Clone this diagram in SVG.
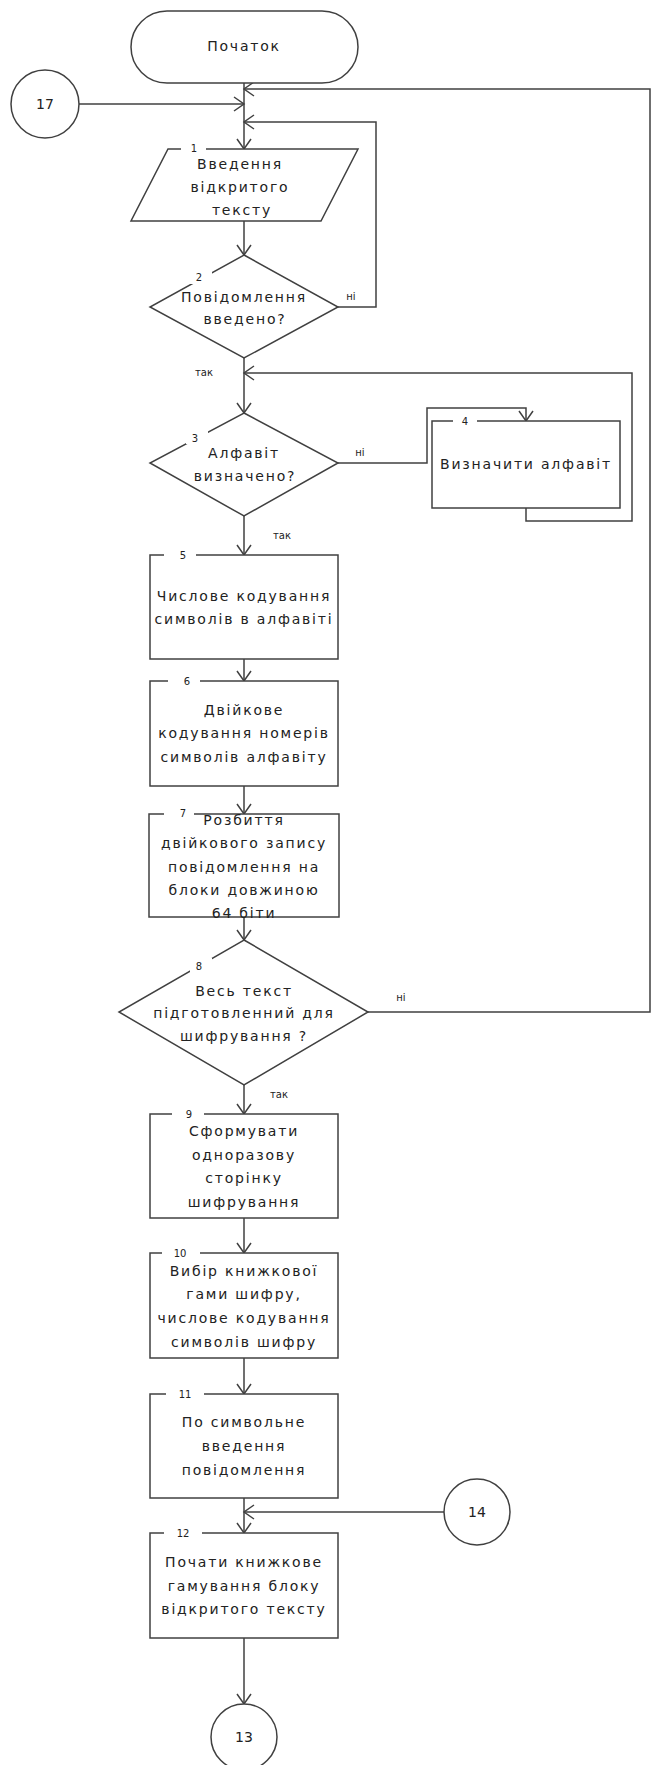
<svg xmlns="http://www.w3.org/2000/svg" width="652" height="1765" viewBox="0 0 652 1765">
<style>
.shape{fill:#ffffff;stroke:#404040;stroke-width:1.5}
.ln{fill:none;stroke:#404040;stroke-width:1.5}
.t{font-family:"DejaVu Sans",sans-serif;font-size:14px;letter-spacing:1.8px;fill:#222;text-anchor:middle;dominant-baseline:central}
.n{font-family:"DejaVu Sans",sans-serif;font-size:10px;fill:#222;text-anchor:middle;dominant-baseline:central}
.lb{font-family:"DejaVu Sans",sans-serif;font-size:10px;fill:#222;text-anchor:middle;dominant-baseline:central}
.gap{fill:#ffffff;stroke:none}
</style>
<defs>
<marker id="arr" markerUnits="userSpaceOnUse" markerWidth="14" markerHeight="18" refX="11" refY="8" orient="auto">
<path d="M1,1 L11,8 L1,15" fill="none" stroke="#404040" stroke-width="1.5"/>
</marker>
</defs>
<rect width="652" height="1765" fill="#ffffff"/>

<g id="connectors">
<polyline class="ln" points="244,83 244,149" marker-end="url(#arr)"/>
<polyline class="ln" points="79,104 244,104" marker-end="url(#arr)"/>
<polyline class="ln" points="338,307 376,307 376,122 244,122" marker-end="url(#arr)"/>
<polyline class="ln" points="368,1012 650,1012 650,89 244,89" marker-end="url(#arr)"/>
<polyline class="ln" points="244,221 244,255" marker-end="url(#arr)"/>
<polyline class="ln" points="244,358 244,413" marker-end="url(#arr)"/>
<polyline class="ln" points="338,463 427,463 427,408 526,408 526,421" marker-end="url(#arr)"/>
<polyline class="ln" points="526,508 526,521 632,521 632,373 244,373" marker-end="url(#arr)"/>
<polyline class="ln" points="244,516 244,555" marker-end="url(#arr)"/>
<polyline class="ln" points="244,659 244,681" marker-end="url(#arr)"/>
<polyline class="ln" points="244,786 244,814" marker-end="url(#arr)"/>
<polyline class="ln" points="244,917 244,940" marker-end="url(#arr)"/>
<polyline class="ln" points="244,1085 244,1114" marker-end="url(#arr)"/>
<polyline class="ln" points="244,1218 244,1253" marker-end="url(#arr)"/>
<polyline class="ln" points="244,1358 244,1394" marker-end="url(#arr)"/>
<polyline class="ln" points="244,1498 244,1533" marker-end="url(#arr)"/>
<polyline class="ln" points="444,1512 244,1512" marker-end="url(#arr)"/>
<polyline class="ln" points="244,1638 244,1704" marker-end="url(#arr)"/>
<text class="lb" x="351" y="296">ні</text>
<text class="lb" x="204" y="372">так</text>
<text class="lb" x="360" y="452">ні</text>
<text class="lb" x="282" y="535">так</text>
<text class="lb" x="401" y="997">ні</text>
<text class="lb" x="279" y="1094">так</text>
</g>

<g id="start">
<rect class="shape" x="131" y="11" width="227" height="72" rx="36" ry="36"/>
<text class="t" x="244" y="46">Початок</text>
</g>

<g id="c17">
<circle class="shape" cx="45" cy="104" r="34"/>
<text class="t" x="45" y="104" style="letter-spacing:0">17</text>
</g>

<g id="n1">
<polygon class="shape" points="168,149 358,149 321,221 131,221"/>
<rect class="gap" x="181" y="144" width="25" height="10"/>
<text class="n" x="194" y="148">1</text>
<text class="t" x="240" y="164">Введення</text>
<text class="t" x="240" y="187">відкритого</text>
<text class="t" x="242" y="210">тексту</text>
</g>

<g id="n2">
<polygon class="shape" points="244,255 338,307 244,358 150,307"/>
<rect class="gap" x="190" y="270" width="22" height="14"/>
<text class="n" x="199" y="277">2</text>
<text class="t" x="244" y="297">Повідомлення</text>
<text class="t" x="245" y="319">введено?</text>
</g>

<g id="n3">
<polygon class="shape" points="244,413 338,463 244,516 150,463"/>
<rect class="gap" x="186" y="430" width="22" height="14"/>
<text class="n" x="195" y="438">3</text>
<text class="t" x="244" y="453">Алфавіт</text>
<text class="t" x="245" y="476">визначено?</text>
</g>

<g id="n4">
<rect class="shape" x="432" y="421" width="188" height="87"/>
<rect class="gap" x="453" y="416" width="24" height="10"/>
<text class="n" x="465" y="421">4</text>
<text class="t" x="526" y="464">Визначити алфавіт</text>
</g>

<g id="n5">
<rect class="shape" x="150" y="555" width="188" height="104"/>
<rect class="gap" x="164" y="550" width="32" height="10"/>
<text class="n" x="183" y="555">5</text>
<text class="t" x="244" y="596">Числове кодування</text>
<text class="t" x="244" y="619">символів в алфавіті</text>
</g>

<g id="n6">
<rect class="shape" x="150" y="681" width="188" height="105"/>
<rect class="gap" x="168" y="676" width="32" height="10"/>
<text class="n" x="187" y="681">6</text>
<text class="t" x="244" y="710">Двійкове</text>
<text class="t" x="244" y="733">кодування номерів</text>
<text class="t" x="244" y="757">символів алфавіту</text>
</g>

<g id="n7">
<rect class="shape" x="149" y="814" width="190" height="103"/>
<rect class="gap" x="164" y="809" width="30" height="10"/>
<text class="n" x="183" y="813">7</text>
<text class="t" x="244" y="820">Розбиття</text>
<text class="t" x="244" y="843">двійкового запису</text>
<text class="t" x="244" y="867">повідомлення на</text>
<text class="t" x="244" y="890">блоки довжиною</text>
<text class="t" x="244" y="913">64 біти</text>
</g>

<g id="n8">
<polygon class="shape" points="244,940 368,1012 244,1085 119,1012"/>
<rect class="gap" x="190" y="958" width="22" height="14"/>
<text class="n" x="199" y="966">8</text>
<text class="t" x="244" y="991">Весь текст</text>
<text class="t" x="244" y="1013">підготовленний для</text>
<text class="t" x="244" y="1036">шифрування ?</text>
</g>

<g id="n9">
<rect class="shape" x="150" y="1114" width="188" height="104"/>
<rect class="gap" x="172" y="1109" width="32" height="10"/>
<text class="n" x="189" y="1114">9</text>
<text class="t" x="244" y="1131">Сформувати</text>
<text class="t" x="244" y="1155">одноразову</text>
<text class="t" x="244" y="1178">сторінку</text>
<text class="t" x="244" y="1202">шифрування</text>
</g>

<g id="n10">
<rect class="shape" x="150" y="1253" width="188" height="105"/>
<rect class="gap" x="162" y="1248" width="38" height="10"/>
<text class="n" x="180" y="1253">10</text>
<text class="t" x="244" y="1271">Вибір книжкової</text>
<text class="t" x="244" y="1294">гами шифру,</text>
<text class="t" x="244" y="1318">числове кодування</text>
<text class="t" x="244" y="1342">символів шифру</text>
</g>

<g id="n11">
<rect class="shape" x="150" y="1394" width="188" height="104"/>
<rect class="gap" x="166" y="1389" width="38" height="10"/>
<text class="n" x="185" y="1394">11</text>
<text class="t" x="244" y="1422">По символьне</text>
<text class="t" x="244" y="1446">введення</text>
<text class="t" x="244" y="1470">повідомлення</text>
</g>

<g id="c14">
<circle class="shape" cx="477" cy="1512" r="33"/>
<text class="t" x="477" y="1512" style="letter-spacing:0">14</text>
</g>

<g id="n12">
<rect class="shape" x="150" y="1533" width="188" height="105"/>
<rect class="gap" x="164" y="1528" width="38" height="10"/>
<text class="n" x="183" y="1533">12</text>
<text class="t" x="244" y="1562">Почати книжкове</text>
<text class="t" x="244" y="1586">гамування блоку</text>
<text class="t" x="244" y="1609">відкритого тексту</text>
</g>

<g id="c13">
<circle class="shape" cx="244" cy="1737" r="33"/>
<text class="t" x="244" y="1737" style="letter-spacing:0">13</text>
</g>
</svg>
